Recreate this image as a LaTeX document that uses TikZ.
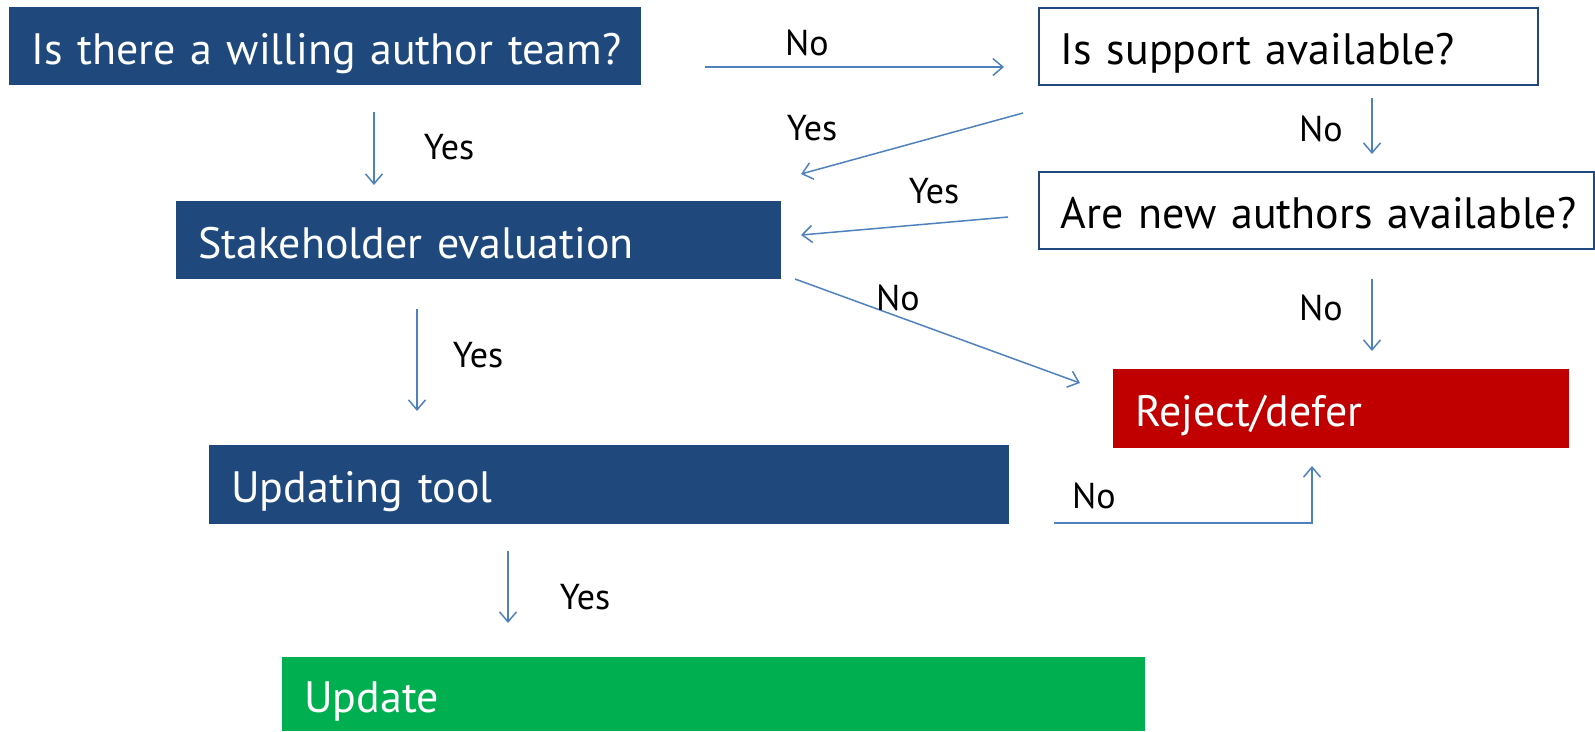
\documentclass[tikz,border=0pt]{standalone}
\usepackage{fontspec}
\setmainfont{PT Sans}
\usetikzlibrary{arrows.meta}
\definecolor{boxblue}{HTML}{1F497D}
\definecolor{lineblue}{HTML}{4F81BD}
\definecolor{rejectred}{HTML}{C00000}
\definecolor{updategreen}{HTML}{00B050}
\begin{document}
\begin{tikzpicture}[x=0.02cm,y=-0.02cm,>={Straight Barb[length=0.2cm,width=0.34cm]},
    box/.style={rectangle,anchor=north west,inner xsep=0.44cm,inner ysep=0pt,align=left,
      text height=0.92cm,text depth=0.2cm,font=\fontsize{25}{30}\selectfont},
    filled/.style={box,fill=#1,text=white},
    question/.style={box,draw=boxblue,line width=1.1pt,fill=white},
    conn/.style={->,draw=lineblue,line width=0.85pt},
    lbl/.style={font=\fontsize{20.5}{24}\selectfont}]
    \useasboundingbox (0,0) rectangle (1595,731);
    % boxes
    \node[filled=boxblue,text width=11.76cm,minimum height=1.56cm] (team) at (9,7) {\mbox{Is there a willing author team?}};
    \node[question,text width=9.10cm,minimum height=1.54cm] (support) at (1038,7) {Is support available?};
    \node[question,text width=10.22cm,minimum height=1.54cm] (newauthors) at (1038,171) {\mbox{Are new authors available?}};
    \node[filled=boxblue,text width=11.22cm,minimum height=1.56cm] (stake) at (176,201) {Stakeholder evaluation};
    \node[filled=rejectred,text width=8.24cm,minimum height=1.58cm] (reject) at (1113,369) {Reject/defer};
    \node[filled=boxblue,text width=15.12cm,minimum height=1.58cm] (tool) at (209,445) {Updating tool};
    \node[filled=updategreen,text width=16.38cm,minimum height=1.48cm] (update) at (282,657) {Update};
    % arrow ends
    \coordinate (noSs) at (705,67);   \coordinate (noSe) at (1004,67);
    \coordinate (yesTs) at (374,112); \coordinate (yesTe) at (374,185);
    \coordinate (yesSs) at (1023,113); \coordinate (yesSe) at (801,174);
    \coordinate (noNs) at (1372,98);  \coordinate (noNe) at (1372,154);
    \coordinate (yesNs) at (1008,217); \coordinate (yesNe) at (801,235);
    \coordinate (noEs) at (795,279);  \coordinate (noEe) at (1080,383);
    \coordinate (noRs) at (1372,279); \coordinate (noRe) at (1372,351);
    \coordinate (yesEs) at (417,309); \coordinate (yesEe) at (417,411);
    \coordinate (noUs) at (1054,523); \coordinate (noUe) at (1312,466);
    \coordinate (yesUs) at (508,551); \coordinate (yesUe) at (508,623);
    % arrows
    \draw[conn] (noSs) -- (noSe);
    \draw[conn] (yesTs) -- (yesTe);
    \draw[conn] (yesSs) -- (yesSe);
    \draw[conn] (noNs) -- (noNe);
    \draw[conn] (yesNs) -- (yesNe);
    \draw[conn] (noEs) -- (noEe);
    \draw[conn] (noRs) -- (noRe);
    \draw[conn] (yesEs) -- (yesEe);
    \draw[conn] (noUs) -| (noUe);
    \draw[conn] (yesUs) -- (yesUe);
    % labels
    \node[lbl] (lnoS) at (807,43) {No};
    \node[lbl] (lyesT) at (449,147) {Yes};
    \node[lbl] (lyesS) at (812,128) {Yes};
    \node[lbl] (lnoN) at (1321,129) {No};
    \node[lbl] (lyesN) at (934,191) {Yes};
    \node[lbl] (lnoE) at (898,298) {No};
    \node[lbl] (lnoR) at (1321,308) {No};
    \node[lbl] (lyesE) at (478,355) {Yes};
    \node[lbl] (lnoU) at (1094,496) {No};
    \node[lbl] (lyesU) at (585,597) {Yes};
\end{tikzpicture}
\end{document}
